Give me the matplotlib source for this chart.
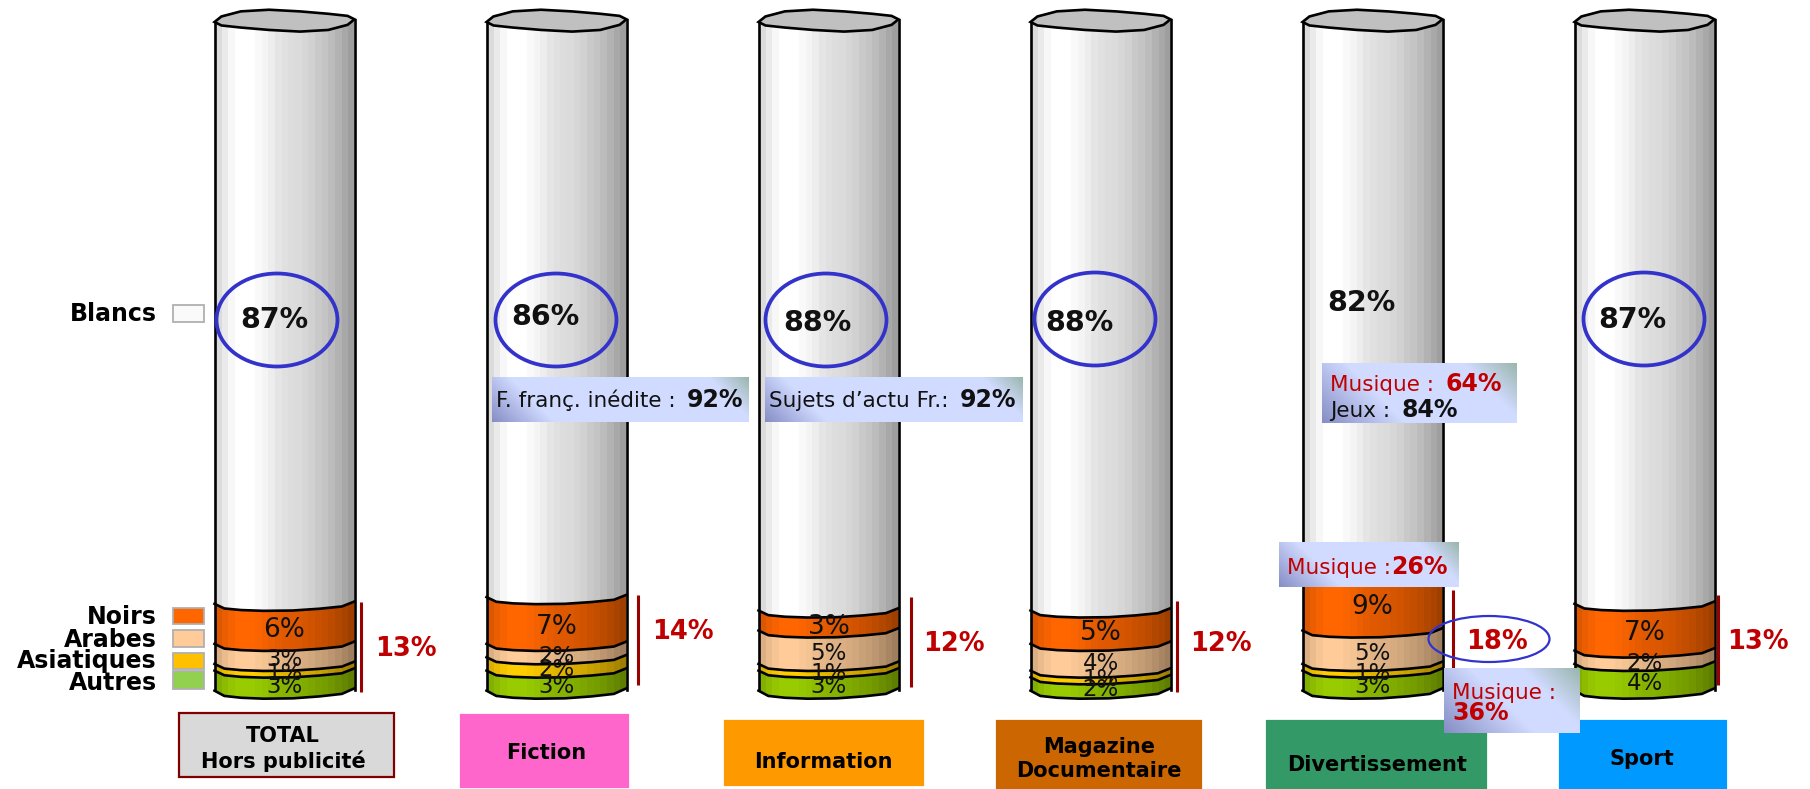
import numpy as np
import matplotlib
matplotlib.use("Agg")
import matplotlib.pyplot as plt
from matplotlib.patches import Polygon, Rectangle, Ellipse

# data (bottom to top inside a column is Autres, Asiatiques, Arabes, Noirs, Blancs)
blancs = [87, 86, 88, 88, 82, 87]
noirs = [6, 7, 3, 5, 9, 7]
arabes = [3, 2, 5, 4, 5, 2]
asiatiques = [1, 2, 1, 1, 1, 0]
autres = [3, 3, 3, 2, 3, 4]
diversite = ["13%", "14%", "12%", "12%", "18%", "13%"]

legend_names = ["Blancs", "Noirs", "Arabes", "Asiatiques", "Autres"]
seg_colors = {"blanc": "#ffffff", "noir": "#ff6600", "arabe": "#ffcc99", "asia": "#ffcc00", "autre": "#99cc00"}

W, H = 1810, 789
fig = plt.figure(figsize=(W / 100, H / 100), dpi=100)

# axes in percent for the cylinders, one unit on x = one column
ax = fig.add_axes([0, 0, 1, 1])
PX_PCT = 6.68
PX_COL = 272
BASE = 690
ax.set_xlim(-284.5 / PX_COL, (W - 284.5) / PX_COL)
ax.set_ylim((BASE - H) / PX_PCT, BASE / PX_PCT)
ax.axis("off")

# second axes in pixels for boxes and notes
ov = fig.add_axes([0, 0, 1, 1], zorder=5)
ov.set_xlim(0, W)
ov.set_ylim(H, 0)
ov.axis("off")
ov.patch.set_alpha(0)

half = 70 / PX_COL
arc_t = np.array([-1, -0.86, -0.62, -0.3, 0.12, 0.5, 0.82, 1])
arc_k = np.array([0, 0.62, 0.86, 1.0, 1.0, 0.82, 0.58, 0])
tilt = np.linspace(-0.1, 0.25, 8)

# stepped shade left to right like the original 3D bars
shade = np.array([0.86, 0.92, 0.97, 1, 1, 1, 0.98, 0.96, 0.93, 0.90, 0.88, 0.87,
                  0.86, 0.84, 0.82, 0.79, 0.77, 0.74, 0.70, 0.66, 0.62])


def arc(x0, level, depth=1.2):
    return x0 + arc_t * half, level - arc_k * depth + tilt


def draw_segment(x0, lo, hi, color, first=False, white=False):
    rgb = np.array(matplotlib.colors.to_rgb(color))
    img = (shade[:, None] * rgb)[None, :, :]
    xt, yt = arc(x0, hi)
    if white:
        yt = np.full(8, hi)
    xb, yb = arc(x0, lo, 1.35 if first else 1.2)
    pts = np.vstack([np.column_stack([xt, yt]), np.column_stack([xb, yb])[::-1]])
    im = ax.imshow(img, extent=[x0 - half, x0 + half, lo - 3, hi + 3], aspect="auto",
                   interpolation="nearest", zorder=2)
    clip = Polygon(pts, closed=True, transform=ax.transData)
    im.set_clip_path(clip)
    ax.plot(xb, yb, color="black", lw=1.9, zorder=3, solid_joinstyle="round")


for i in range(6):
    levels = [0]
    stack = [(autres[i], "autre"), (asiatiques[i], "asia"), (arabes[i], "arabe"),
             (noirs[i], "noir"), (blancs[i], "blanc")]
    for val, key in stack:
        if val == 0:
            continue
        lo = levels[-1]
        hi = lo + val
        levels.append(hi)
        draw_segment(i, lo, hi, seg_colors[key], first=(lo == 0), white=(key == "blanc"))
        if key != "blanc":
            size = 19 if key == "noir" else 16.5
            ax.text(i, (lo + hi) / 2 - 1.0, str(val) + "%", ha="center", va="center",
                    fontsize=size, color="#111111", zorder=4)
    # sides and lid
    ax.plot([i - half, i - half], [0, 100], color="black", lw=1.9, zorder=3)
    ax.plot([i + half, i + half], [0, 100.3], color="black", lw=1.9, zorder=3)
    lid_t = np.linspace(0, 2 * np.pi, 15)[:-1]
    lid_x = i + half * np.cos(lid_t)
    lid_y = 100.2 + 1.55 * np.sin(lid_t) + 0.2 * np.cos(lid_t * 3)
    ax.add_patch(Polygon(np.column_stack([lid_x, lid_y]), closed=True, facecolor="#c0c0c0",
                         edgecolor="black", lw=1.9, zorder=4))

ax.set_xlim(-284.5 / PX_COL, (W - 284.5) / PX_COL)
ax.set_ylim((BASE - H) / PX_PCT, BASE / PX_PCT)

# white share labels with the blue rings
blanc_pos = [(274, 320), (545, 317), (817, 323), (1079, 323), (1361, 303), (1632, 320)]
ring_pos = [(277, 320), (556, 320), (826, 320), (1095, 319), None, (1644, 319)]
for i in range(6):
    px, py = blanc_pos[i]
    ov.text(px, py, str(blancs[i]) + "%", ha="center", va="center", fontsize=20.5,
            fontweight="bold", color="#111111")
    if ring_pos[i] is not None:
        ov.add_patch(Ellipse(ring_pos[i], 121, 93, fill=False, edgecolor="#3333cc", lw=2.7))

# red brackets and totals
bar_x = [361, 638, 911, 1177, 1453, 1718]
bar_y = [(602, 692), (595, 685), (597, 687), (601, 692), (590, 690), (595, 685)]
total_pos = [(406, 649), (683, 632), (954, 644), (1221, 644), (1497, 642), (1758, 642)]
for i in range(6):
    ov.plot([bar_x[i], bar_x[i]], bar_y[i], color="#990000", lw=2.2, solid_capstyle="butt")
    ov.text(total_pos[i][0], total_pos[i][1], diversite[i], ha="center", va="center",
            fontsize=18.5, fontweight="bold", color="#c00000")
ov.add_patch(Ellipse((1489, 639), 121, 46, fill=False, edgecolor="#3333cc", lw=1.6, zorder=6))

# legend
legend_y = [314, 617, 640, 661, 683]
swatches = [(305, 322, "#fafafa"), (608, 624, "#ff6600"), (630, 647, "#ffcc99"),
            (653, 669, "#ffc000"), (671, 689, "#92d050")]
for name, y, sw in zip(legend_names, legend_y, swatches):
    ov.text(157, y, name, ha="right", va="center", fontsize=17, fontweight="bold", color="black")
    ov.add_patch(Rectangle((173, sw[0]), 31, sw[1] - sw[0], facecolor=sw[2],
                           edgecolor="#b0b0b0", lw=1.3))

# category boxes
cats = [("TOTAL\nHors publicité", 179, 394, 713, 777, "#d9d9d9", 283, 749),
        ("Fiction", 461, 628, 715, 787, "#ff66cc", 546, 753),
        ("Information", 725, 923, 721, 785, "#ff9900", 823, 762),
        ("Magazine\nDocumentaire", 997, 1201, 721, 789, "#cc6600", 1099, 759),
        ("Divertissement", 1267, 1486, 721, 789, "#339966", 1377, 765),
        ("Sport", 1560, 1726, 721, 789, "#0099ff", 1642, 759)]
for label, x0, x1, y0, y1, col, tx, ty in cats:
    edge = "#800000" if label.startswith("TOTAL") else col
    ov.add_patch(Rectangle((x0, y0), x1 - x0, y1 - y0, facecolor=col, edgecolor=edge, lw=1.6, zorder=2))
    ov.text(tx, ty, label, ha="center", va="center", fontsize=15, fontweight="bold",
            color="black", linespacing=1.25, zorder=7)


def note_box(x0, x1, y0, y1):
    w, h = x1 - x0, y1 - y0
    u, v = np.meshgrid(np.arange(w) + 0.5, np.arange(h) + 0.5)
    dl = np.clip(1 - (u + (h - v)) / (1.4 * h), 0, 1)[..., None]
    dr = np.clip(1 - ((w - u) + v) / (0.9 * h), 0, 1)[..., None]
    base = np.array([0.82, 0.86, 1.0])
    img = base * (1 - dl) + np.array([0.52, 0.55, 0.77]) * dl
    img = img * (1 - dr) + np.array([0.60, 0.71, 0.67]) * dr
    ov.imshow(img, extent=[x0, x1, y1, y0], aspect="auto", interpolation="bilinear", zorder=8)


def rich(x, y, parts, size=15.5):
    rend = fig.canvas.get_renderer()
    for s, col, bold in parts:
        t = ov.text(x, y, s, color=col, fontsize=17 if bold else size, va="baseline",
                    fontweight="bold" if bold else "normal", zorder=9)
        x += t.get_window_extent(rend).width + 0.28 * size * (s.endswith(" "))


red = "#c00000"
note_box(492, 749, 377, 422)
rich(496, 407, [("F. franç. inédite : ", "#111111", False), ("92%", "#111111", True)], 15.5)
note_box(765, 1022, 377, 422)
rich(769, 407, [("Sujets d’actu Fr.: ", "#111111", False), ("92%", "#111111", True)], 15.5)
note_box(1322, 1517, 363, 423)
rich(1330, 391, [("Musique : ", red, False), ("64%", red, True)])
rich(1330, 417, [("Jeux : ", "#111111", False), ("84%", "#111111", True)])
note_box(1279, 1459, 542, 587)
rich(1287, 574, [("Musique :", red, False), ("26%", red, True)])
note_box(1444, 1579, 668, 733)
rich(1452, 699, [("Musique :", red, False)])
rich(1452, 720, [("36%", red, True)])

ov.set_xlim(0, W)
ov.set_ylim(H, 0)

plt.savefig("out.png", dpi=100)
